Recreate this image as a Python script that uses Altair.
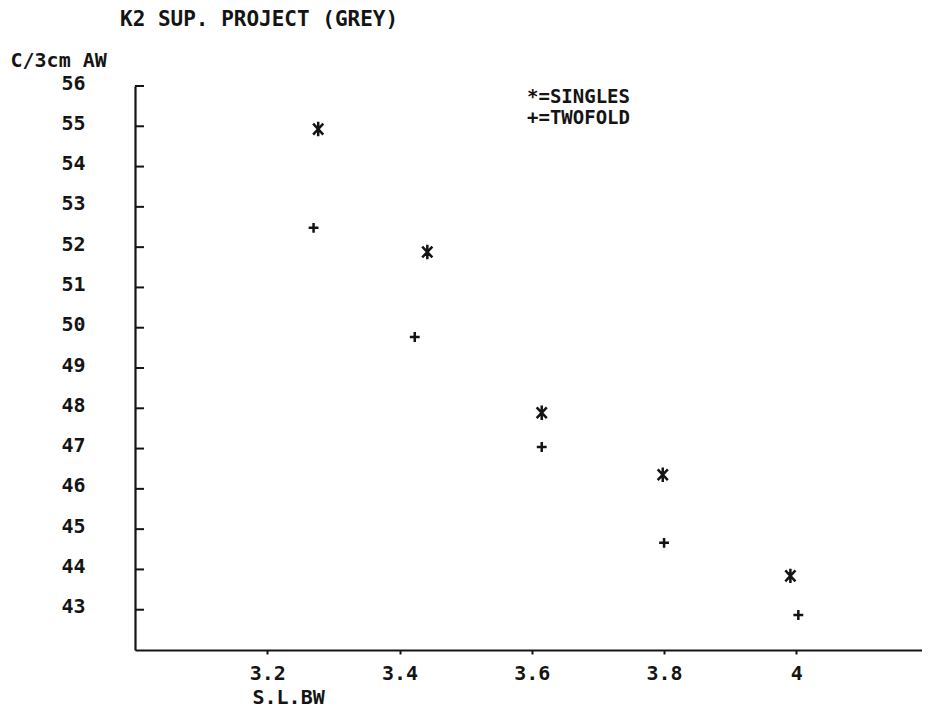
import altair as alt
import pandas as pd

# ---- data ----
singles_x = [3.277, 3.442, 3.615, 3.798, 3.991]
singles_y = [54.93, 51.88, 47.89, 46.35, 43.84]
twofold_x = [3.270, 3.423, 3.615, 3.800, 4.003]
twofold_y = [52.48, 49.77, 47.04, 44.66, 42.87]
series_names = ["SINGLES", "TWOFOLD"]
x_ticks = [3.2, 3.4, 3.6, 3.8, 4.0]
y_ticks = [43, 44, 45, 46, 47, 48, 49, 50, 51, 52, 53, 54, 55, 56]
chart_title = "K2 SUP. PROJECT (GREY)"
x_title = "S.L.BW"
y_title = "C/3cm AW"
legend_lines = "*=SINGLES\n+=TWOFOLD"

FONT = "DejaVu Sans Mono"
INK = "#141414"
W, H = 787, 564
LBL = 20
TXT = 20

df = pd.DataFrame({
    "x": singles_x + twofold_x,
    "y": singles_y + twofold_y,
    "series": [series_names[0]] * len(singles_x) + [series_names[1]] * len(twofold_x),
})

asterisk = "M0,-1L0,1M-0.7,-0.75L0.7,0.75M-0.7,0.75L0.7,-0.75"
plus = "M-0.68,0L0.68,0M0,-0.68L0,0.68"

xscale = alt.Scale(domain=[3.0, 4.19], nice=False, zero=False)
yscale = alt.Scale(domain=[42, 56], nice=False, zero=False)

points = alt.Chart(df).mark_point(filled=False, strokeWidth=2.5, size=210, opacity=1, color=INK).encode(
    x=alt.X("x:Q", scale=xscale,
            axis=alt.Axis(values=x_ticks, format="~g", grid=False, domainColor=INK, domainWidth=2.2,
                          tickColor=INK, tickWidth=2, tickSize=4, labelPadding=9,
                          labelFont=FONT, labelFontSize=LBL, labelFontWeight="bold", labelColor=INK,
                          title=x_title, titleFont=FONT, titleFontSize=TXT, titleFontWeight="bold",
                          titleColor=INK, titleAnchor="start", titleAlign="left", titleBaseline="middle",
                          titleX=117, titleY=47)),
    y=alt.Y("y:Q", scale=yscale,
            axis=alt.Axis(values=y_ticks, grid=False, domainColor=INK, domainWidth=2.2,
                          ticks=False, labelPadding=50, labelOffset=-3,
                          labelFont=FONT, labelFontSize=LBL, labelFontWeight="bold", labelColor=INK,
                          title=y_title, titleFont=FONT, titleFontSize=TXT, titleFontWeight="bold",
                          titleColor=INK, titleAngle=0, titleAlign="left", titleBaseline="middle",
                          titleX=-125, titleY=-26)),
    shape=alt.Shape("series:N", scale=alt.Scale(domain=series_names, range=[asterisk, plus]), legend=None),
)

ytick_df = pd.DataFrame({"y": y_ticks})
yticks = alt.Chart(ytick_df).mark_rule(color=INK, strokeWidth=2).encode(
    y=alt.Y("y:Q", scale=yscale),
    x=alt.value(0), x2=alt.value(9),
)

legend = alt.Chart(pd.DataFrame({"t": [legend_lines]})).mark_text(
    font=FONT, fontSize=19, fontWeight="bold", color=INK, align="left", baseline="middle",
    lineBreak="\n", lineHeight=21
).encode(text="t:N", x=alt.value(392), y=alt.value(11))

title = alt.Chart(pd.DataFrame({"t": [chart_title]})).mark_text(
    font=FONT, fontSize=21, fontWeight="bold", color=INK, align="left", baseline="middle"
).encode(text="t:N", x=alt.value(-15), y=alt.value(-66))

chart = alt.layer(yticks, points, legend, title).properties(
    width=W, height=H,
    view=alt.ViewBackground(stroke="white", strokeWidth=0),
    autosize=alt.AutoSizeParams(type="none"),
    padding={"left": 127, "top": 78, "right": 0, "bottom": 58},
).configure_view(stroke="white", strokeWidth=0).configure_axis(grid=False).configure(background="white")

chart.save("out.html", embed_options={"renderer": "svg", "actions": False})
